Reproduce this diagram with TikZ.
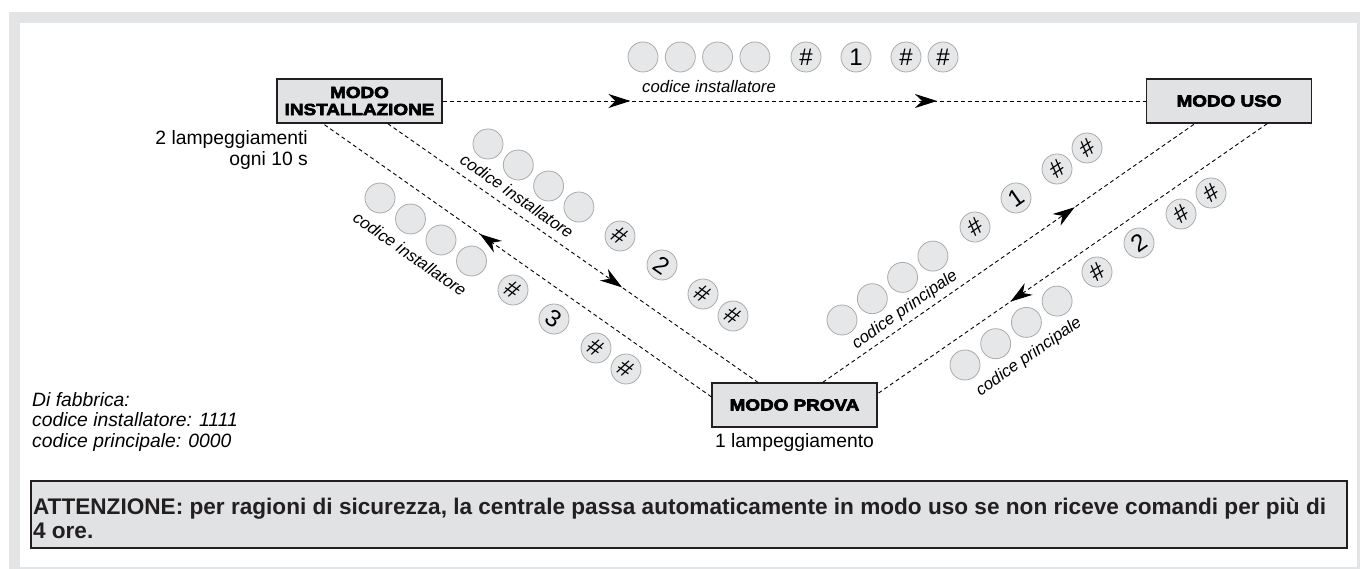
\documentclass[tikz,border=0pt]{standalone}
\usepackage{fontspec}
\setmainfont{Liberation Sans}
\newfontfamily\modefont[FakeStretch=1.18,BoldFeatures={FakeBold=4}]{Liberation Sans}
\usepackage{xcolor}
\usetikzlibrary{arrows.meta,decorations.markings,calc}
\definecolor{framegrey}{HTML}{E3E4E5}
\definecolor{boxgrey}{HTML}{E1E2E3}
\definecolor{keygrey}{HTML}{E6E7E8}
\definecolor{keyline}{HTML}{ABABAB}
\definecolor{inkdark}{HTML}{231F20}

\begin{document}
\begin{tikzpicture}[x=1pt,y=-1pt,
    >={Stealth[length=22pt,width=14pt,inset=7pt]},
    modebox/.style={draw=inkdark, line width=1.3pt, fill=boxgrey, minimum width=165pt,
        minimum height=44pt, inner sep=0pt, align=center,
        font=\modefont\bfseries\fontsize{16}{17}\selectfont},
    keycap/.style={circle, draw=keyline, line width=0.8pt, fill=keygrey, minimum size=30pt,
        inner sep=0pt, font=\fontsize{24}{24}\selectfont},
    codelabel/.style={inner sep=0pt, font=\itshape\fontsize{16.7}{17}\selectfont},
    plaintext/.style={inner sep=0pt, font=\fontsize{19.3}{20.5}\selectfont},
    linkline/.style={draw=black, line width=0.9pt, dash pattern=on 4pt off 3pt},
    midarrow/.style={postaction={decorate},
        decoration={markings, mark=at position #1 with {\arrow{>}}}}
]
    \useasboundingbox (0,0) rectangle (1360,569);
    % frame
    \fill[framegrey] (9,12) rectangle (1360,569);
    \fill[white] (20,23) rectangle (1357,567);

    % modes
    \node[modebox] (inst) at (359.5,101) {MODO\\INSTALLAZIONE};
    \node[modebox] (uso) at (1229,101) {MODO USO};
    \node[modebox] (prova) at (794.5,405) {MODO PROVA};

    \node[plaintext, anchor=east, align=right] (instnote) at (308,150) {2 lampeggiamenti\\ogni 10 s};
    \node[plaintext] (provanote) at (794.5,443) {1 lampeggiamento};

    % connection points
    \coordinate (inst-a) at ($(inst.south west)!0.28!(inst.south east)$);
    \coordinate (inst-b) at ($(inst.south west)!0.67!(inst.south east)$);
    \coordinate (uso-a) at ($(uso.south west)!0.295!(uso.south east)$);
    \coordinate (uso-b) at ($(uso.south west)!0.73!(uso.south east)$);
    \coordinate (prova-l) at ($(prova.north west)!0.32!(prova.south west)$);
    \coordinate (prova-t1) at ($(prova.north west)!0.28!(prova.north east)$);
    \coordinate (prova-t2) at ($(prova.north west)!0.67!(prova.north east)$);
    \coordinate (prova-r) at ($(prova.north east)!0.25!(prova.south east)$);

    % transitions
    \draw[linkline, postaction={decorate}, decoration={markings,
        mark=at position 0.267 with {\arrow{>}},
        mark=at position 0.703 with {\arrow{>}}}] (inst.east) -- (uso.west);
    \draw[linkline, midarrow=0.633] (inst-b) -- (prova-t1);
    \draw[linkline, midarrow=0.596] (prova-l) -- (inst-a);
    \draw[linkline, midarrow=0.677] (prova-t2) -- (uso-a);
    \draw[linkline, midarrow=0.659] (uso-b) -- (prova-r);

    % keys: installazione -> uso
    \foreach \i in {0,1,2,3}
    {
        \node[keycap] (top\i) at (643+37.3*\i,57) {};
    }
    \node[keycap] (top4) at (806,57) {\#};
    \node[keycap] (top5) at (856,57) {1};
    \node[keycap] (top6) at (906,57) {\#};
    \node[keycap] (top7) at (943,57) {\#};
    \node[codelabel] (toplabel) at (709,87) {codice installatore};

    % keys: installazione -> prova
    \foreach \i in {0,1,2,3}
    {
        \node[keycap] (ul\i) at (488+30.3*\i,144+21*\i) {};
    }
    \node[keycap, rotate=-35] (ul4) at (620,236) {\#};
    \node[keycap, rotate=-35] (ul5) at (662,265) {2};
    \node[keycap, rotate=-35] (ul6) at (703,294) {\#};
    \node[keycap, rotate=-35] (ul7) at (733,316) {\#};
    \node[codelabel, rotate=-35] (ullabel) at (517,196) {codice installatore};

    % keys: prova -> installazione
    \foreach \i in {0,1,2,3}
    {
        \node[keycap] (ll\i) at (380+30.5*\i,198+21*\i) {};
    }
    \node[keycap, rotate=-35] (ll4) at (513,290) {\#};
    \node[keycap, rotate=-35] (ll5) at (554,319) {3};
    \node[keycap, rotate=-35] (ll6) at (596,348) {\#};
    \node[keycap, rotate=-35] (ll7) at (626,369) {\#};
    \node[codelabel, rotate=-35] (lllabel) at (410,254) {codice installatore};

    % keys: prova -> uso
    \foreach \i in {0,1,2,3}
    {
        \node[keycap] (ur\i) at (842+30.3*\i,320-21.3*\i) {};
    }
    \node[keycap, rotate=35] (ur4) at (975,227) {\#};
    \node[keycap, rotate=35] (ur5) at (1016,198) {1};
    \node[keycap, rotate=35] (ur6) at (1057,169) {\#};
    \node[keycap, rotate=35] (ur7) at (1087,148) {\#};
    \node[codelabel, rotate=35] (urlabel) at (905,310) {codice principale};

    % keys: uso -> prova
    \foreach \i in {0,1,2,3}
    {
        \node[keycap] (lr\i) at (965+30.7*\i,365-21.3*\i) {};
    }
    \node[keycap, rotate=35] (lr4) at (1097,272) {\#};
    \node[keycap, rotate=35] (lr5) at (1139,243) {2};
    \node[keycap, rotate=35] (lr6) at (1181,214) {\#};
    \node[keycap, rotate=35] (lr7) at (1211,193) {\#};
    \node[codelabel, rotate=35] (lrlabel) at (1029,357) {codice principale};

    % defaults
    \node[plaintext, anchor=west, align=left, font=\itshape\fontsize{19.3}{20.5}\selectfont] (defaults) at (32,422)
        {Di fabbrica:\\codice installatore: 1111\\codice principale: 0000};

    % warning
    \node[draw=inkdark, line width=1.3pt, fill=boxgrey, minimum width=1316pt, minimum height=67pt,
        inner sep=0pt] (warn) at (689,514.5) {};
    \node[anchor=west, align=left, inner sep=0pt, text=inkdark,
        font=\bfseries\fontsize{22.6}{23.5}\selectfont] (warntext) at ($(warn.west)+(2.5,4)$)
        {ATTENZIONE: per ragioni di sicurezza, la centrale passa automaticamente in modo uso se non riceve comandi per più di\\4 ore.};
\end{tikzpicture}
\end{document}
